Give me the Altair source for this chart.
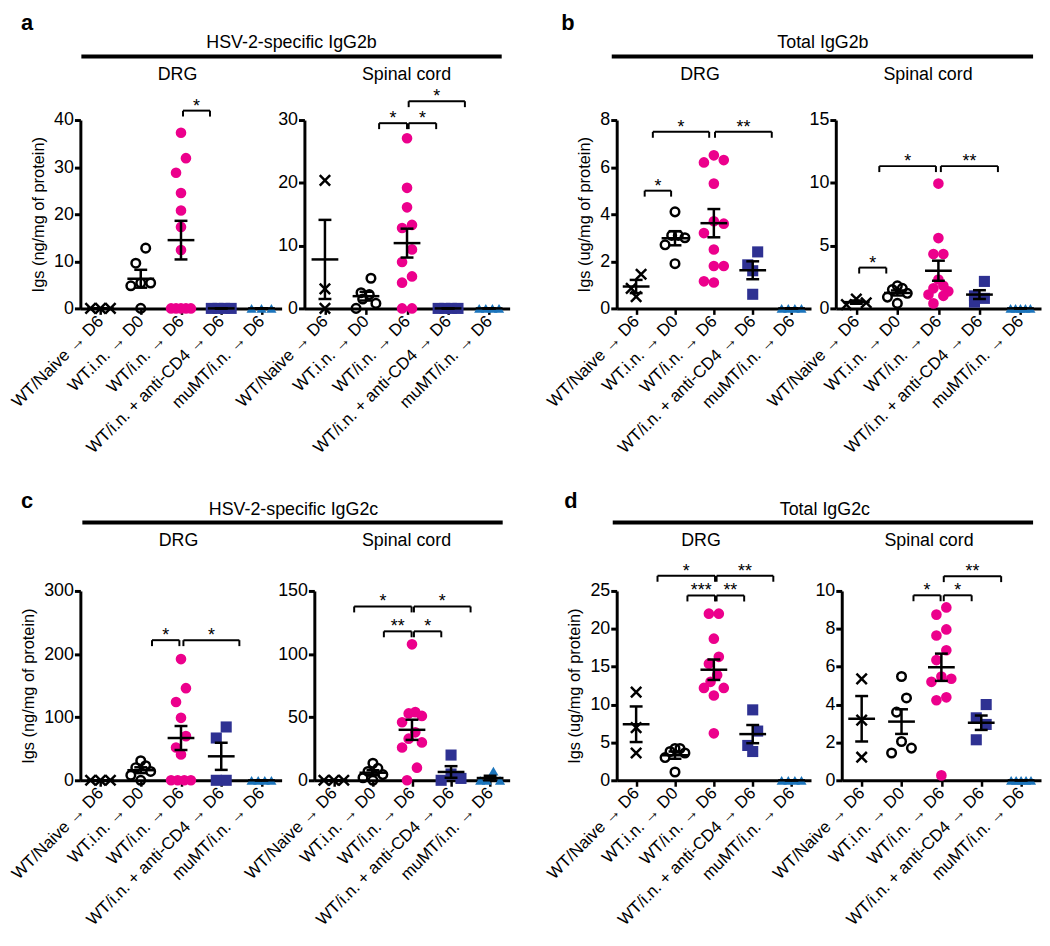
import json
import altair as alt
import pandas as pd

FONT = "Liberation Sans, Arial, DejaVu Sans, sans-serif"
MAG = "#EC008C"
NAVY = "#2E3192"
BLUE = "#1C75BC"
XPATH = "M-1,-1L1,1M-1,1L1,-1"

GROUP_LABELS = ["WT/Naive → D6", "WT.i.n. → D0", "WT/i.n. → D6",
                "WT/i.n. + anti-CD4 → D6", "muMT/i.n. → D6"]

# ---------------- data ----------------
# a: HSV-2-specific IgG2b, DRG
a_drg_values = [[0, 0, 0],
                [12.8, 9.6, 5.4, 5.4, 4.8, 0],
                [37.3, 31.9, 28.8, 24.5, 20.8, 17.3, 12.4, 0, 0, 0, 0, 0],
                [0, 0, 0, 0],
                [0, 0, 0]]
a_drg_mean = [0, 6.3, 14.5, 0, 0]
a_drg_sem = [0, 1.9, 4.1, 0, 0]
a_drg_brackets = [(3.05, 3.72, 42.0, "*")]

# a: HSV-2-specific IgG2b, spinal cord
a_sc_values = [[20.4, 3.1, 0],
               [4.8, 2.5, 2.2, 1.5, 0.8, 0],
               [27.1, 19.2, 16.1, 13.3, 12.8, 9.4, 7.4, 5.1, 4.1, 0, 0],
               [0, 0, 0, 0],
               [0, 0, 0, 0]]
a_sc_mean = [7.8, 1.95, 10.4, 0, 0]
a_sc_sem = [6.3, 0.7, 2.3, 0, 0]
a_sc_brackets = [(2.32, 3.0, 29.5, "*"), (3.04, 3.71, 29.5, "*"),
                 (3.04, 4.41, 33.0, "*")]

# b: total IgG2b, DRG
b_drg_values = [[1.45, 0.85, 0.5],
                [4.1, 3.1, 3.1, 3.0, 2.7, 1.9],
                [6.5, 6.3, 6.2, 5.3, 3.7, 3.6, 3.2, 2.5, 1.8, 1.8, 1.1, 1.15],
                [2.4, 1.85, 1.6, 0.6],
                [0, 0, 0, 0]]
b_drg_mean = [0.93, 2.98, 3.62, 1.62, 0]
b_drg_sem = [0.28, 0.3, 0.6, 0.38, 0]
b_drg_brackets = [(1.22, 1.90, 5.0, "*"), (1.43, 2.88, 7.5, "*"),
                  (3.03, 4.49, 7.5, "**")]

# b: total IgG2b, spinal cord
b_sc_values = [[0.75, 0.45, 0.3],
               [1.8, 1.6, 1.5, 1.2, 0.9, 0.4],
               [9.94, 5.6, 4.33, 4.33, 2.3, 1.8, 1.6, 1.36, 1.1, 1.0, 0.4],
               [2.15, 1.0, 0.8, 0.5],
               [0, 0, 0, 0, 0]]
b_sc_mean = [0.5, 1.23, 3.0, 1.1, 0]
b_sc_sem = [0.13, 0.2, 0.8, 0.35, 0]
b_sc_brackets = [(1.07, 1.73, 3.25, "*"), (1.56, 2.94, 11.33, "*"),
                 (3.06, 4.45, 11.33, "**")]

# c: HSV-2-specific IgG2c, DRG
c_drg_values = [[0, 0, 0],
                [31, 23, 20, 14, 8, 0],
                [192, 146, 124, 99, 70, 52, 41, 0, 0, 0, 0],
                [84.5, 67, 0, 0],
                [0, 0, 0, 0]]
c_drg_mean = [0, 16, 67, 38, 0]
c_drg_sem = [0, 4.6, 19, 21.5, 0]
c_drg_brackets = [(2.28, 2.96, 222, "*"), (3.06, 4.45, 222, "*")]

# c: HSV-2-specific IgG2c, spinal cord
c_sc_values = [[0, 0, 0],
               [13.5, 9.5, 7, 4.5, 2, 0],
               [107.7, 54, 53, 51, 46, 38, 33, 30, 26, 10, 0],
               [20, 5, 1.5, 0],
               [7.3, 0, 0, 0]]
c_sc_mean = [0, 6.0, 40, 6.6, 1.8]
c_sc_sem = [0, 2.0, 8, 4.6, 1.8]
c_sc_brackets = [(1.52, 2.99, 137.7, "*"), (3.05, 4.50, 137.7, "*"),
                 (2.28, 2.99, 118, "**"), (3.05, 3.75, 118, "*")]

# d: total IgG2c, DRG
d_drg_values = [[11.65, 6.96, 3.6],
                [4.2, 4.2, 3.8, 3.6, 3.0, 1.1],
                [22.0, 22.0, 18.7, 16.3, 15.4, 13.9, 13.0, 12.2, 12.2, 11.2, 6.2],
                [9.3, 6.5, 4.6, 3.8],
                [0, 0, 0, 0]]
d_drg_mean = [7.4, 3.32, 14.6, 6.1, 0]
d_drg_sem = [2.35, 0.48, 1.35, 1.2, 0]
d_drg_brackets = [(1.55, 3.03, 27.0, "*"), (3.07, 4.53, 27.0, "**"),
                  (2.32, 3.03, 24.4, "***"), (3.07, 3.78, 24.4, "**")]

# d: total IgG2c, spinal cord
d_sc_values = [[5.36, 3.18, 1.22],
               [5.48, 4.35, 3.6, 2.05, 1.7, 1.44],
               [9.13, 8.75, 7.97, 7.65, 6.87, 6.35, 5.48, 5.36, 5.2, 4.38, 4.23, 0.26],
               [4.0, 3.3, 2.95, 2.14],
               [0, 0, 0, 0, 0]]
d_sc_mean = [3.25, 3.1, 5.97, 3.04, 0]
d_sc_sem = [1.2, 0.65, 0.72, 0.38, 0]
d_sc_brackets = [(2.30, 2.98, 9.77, "*"), (3.06, 3.76, 9.77, "*"),
                 (3.06, 4.50, 10.78, "**")]

TITLE_NG = "Igs (ng/mg of protein)"
TITLE_UG = "Igs (ug/mg of protein)"


# ---------------- helpers ----------------
def swarm(vals, ppu, step):
    """Horizontal spreading of points with similar values (scatter-dot layout):
    points within a band are placed in slots, highest values nearest the centre."""
    order = sorted(range(len(vals)), key=lambda i: -vals[i])
    bins = []
    for i in order:
        if bins and (vals[bins[-1][0]] - vals[i]) * ppu < 16:
            bins[-1].append(i)
        else:
            bins.append([i])
    off = [0.0] * len(vals)
    for b in bins:
        n = len(b)
        if n == 1:
            continue
        spc = min(10.0, 20.0 / (n - 1))
        slots = [k - (n - 1) / 2 for k in range(n)]
        slots.sort(key=lambda s: (abs(s), -s))
        for i, s in zip(b, slots):
            off[i] = s * spc / step
    return off


LABEL_EXPR = "[" + ", ".join(json.dumps(s, ensure_ascii=False) for s in GROUP_LABELS) + "][datum.value - 1]"


def panel(values, mean, sem, brackets, ymax, yticks, ytitle, cell_w, off, w, h):
    step = w / 5.0
    ppu = h / ymax
    rows = []
    for gi, vals in enumerate(values, start=1):
        offs = swarm(vals, ppu, step)
        for v, o in zip(vals, offs):
            rows.append({"gx": gi + o, "v": v, "grp": "g%d" % gi})
    pts = pd.DataFrame(rows)
    stats = pd.DataFrame({"g": [1, 2, 3, 4, 5], "mean": mean,
                          "lo": [m - s for m, s in zip(mean, sem)],
                          "hi": [m + s for m, s in zip(mean, sem)]})
    br = pd.DataFrame(brackets, columns=["x1", "x2", "y", "label"])
    br["xm"] = (br["x1"] + br["x2"]) / 2

    xs = alt.Scale(domain=[0.5, 5.5], range=[off, off + w], nice=False, zero=False)
    ys = alt.Scale(domain=[0, ymax], nice=False, zero=False)
    xax = alt.Axis(values=[1, 2, 3, 4, 5], labelExpr=LABEL_EXPR, labelAngle=-45,
                   labelAlign="right", labelBaseline="middle", labelFontSize=17,
                   labelPadding=4, labelOverlap=False, labelFlush=False,
                   labelLimit=400, tickSize=6, tickWidth=2.5, domainWidth=3,
                   grid=False)
    yax = alt.Axis(values=yticks, tickSize=6, tickWidth=3, domainWidth=3,
                   labelFontSize=18, labelPadding=1, titleFontSize=16.5,
                   titlePadding=7, titleFontWeight="normal", grid=False,
                   offset=-off)

    def X(f):
        return alt.X(f + ":Q", scale=xs, axis=xax, title=None)

    def Y(f):
        return alt.Y(f + ":Q", scale=ys, axis=yax, title=ytitle)

    P = alt.Chart(pts)
    l_x = P.transform_filter("datum.grp == 'g1'").mark_point(
        shape=XPATH, filled=False, color="black", strokeWidth=2.5, size=110,
        opacity=1).encode(x=X("gx"), y=Y("v"))
    l_o = P.transform_filter("datum.grp == 'g2'").mark_point(
        shape="circle", filled=False, color="black", strokeWidth=2.5, size=75,
        opacity=1).encode(x=X("gx"), y=Y("v"))
    l_m = P.transform_filter("datum.grp == 'g3'").mark_point(
        shape="circle", filled=True, color=MAG, size=115, opacity=1,
        strokeWidth=0).encode(x=X("gx"), y=Y("v"))
    l_s = P.transform_filter("datum.grp == 'g4'").mark_point(
        shape="square", filled=True, color=NAVY, size=125, opacity=1,
        strokeWidth=0).encode(x=X("gx"), y=Y("v"))
    l_t = P.transform_filter("datum.grp == 'g5'").mark_point(
        shape="triangle-up", filled=True, color=BLUE, size=105, opacity=1,
        strokeWidth=0).encode(x=X("gx"), y=Y("v"))

    S = alt.Chart(stats)
    e_bar = S.mark_rule(color="black", strokeWidth=2.5).encode(
        x=X("g"), y=Y("lo"), y2="hi")
    e_cap = S.transform_fold(["lo", "hi"], as_=["k", "yv"]).mark_tick(
        orient="horizontal", size=13, thickness=2.5, color="black",
        opacity=1).encode(x=X("g"), y=Y("yv"))
    e_mean = S.mark_tick(orient="horizontal", size=27, thickness=2.5,
                         color="black", opacity=1).encode(x=X("g"), y=Y("mean"))

    B = alt.Chart(br)
    b_line = B.mark_rule(color="black", strokeWidth=2).encode(
        x=X("x1"), x2="x2", y=Y("y"))
    b_end = B.transform_fold(["x1", "x2"], as_=["k", "xe"]).mark_tick(
        orient="vertical", size=6, thickness=2, yOffset=3, color="black",
        opacity=1).encode(x=X("xe"), y=Y("y"))
    b_txt = B.mark_text(font=FONT, fontSize=18, baseline="alphabetic", dy=1,
                        color="black").encode(x=X("xm"), y=Y("y"), text="label:N")

    return alt.layer(l_x, l_o, l_m, l_s, l_t, e_bar, e_cap, e_mean,
                     b_line, b_end, b_txt).properties(width=cell_w, height=h)


ONE = pd.DataFrame({"k": [0]})


def txt(s, x, y, size=18, weight="normal", align="center"):
    return alt.Chart(ONE).mark_text(
        text=s, font=FONT, fontSize=size, fontWeight=weight, align=align,
        baseline="alphabetic", color="black").encode(x=alt.value(x), y=alt.value(y))


def hline(x1, x2, y):
    return alt.Chart(ONE).mark_rule(color="black", strokeWidth=4).encode(
        x=alt.value(x1), x2=alt.value(x2), y=alt.value(y))


W1, W2, W3, W4 = 226, 315, 221, 208
HA, HB, HC, HD = 109, 190, 285, 191

# header row 1
hA1 = alt.layer(txt("a", -60, 18, 22, "bold", "left"),
                txt("HSV-2-specific IgG2b", 213, 36),
                hline(1, 425, 45),
                txt("DRG", 98, 69)).properties(width=W1, height=HA)
hA2 = alt.layer(txt("Spinal cord", 103, 69)).properties(width=W2, height=HA)
hA3 = alt.layer(txt("b", -56, 18, 22, "bold", "left"),
                txt("Total IgG2b", 208, 36),
                hline(-5, 420, 45),
                txt("DRG", 84, 69)).properties(width=W3, height=HA)
hA4 = alt.layer(txt("Spinal cord", 93, 69)).properties(width=W4, height=HA)

# header row 2
hC1 = alt.layer(txt("c", -60, 201, 22, "bold", "left"),
                txt("HSV-2-specific IgG2c", 215, 208),
                hline(2, 426, 216),
                txt("DRG", 99, 240)).properties(width=W1, height=HC)
hC2 = alt.layer(txt("Spinal cord", 103, 240)).properties(width=W2, height=HC)
hC3 = alt.layer(txt("d", -53, 201, 22, "bold", "left"),
                txt("Total IgG2c", 210, 208),
                hline(-4, 420, 216),
                txt("DRG", 85, 240)).properties(width=W3, height=HC)
hC4 = alt.layer(txt("Spinal cord", 94, 240)).properties(width=W4, height=HC)

pa1 = panel(a_drg_values, a_drg_mean, a_drg_sem, a_drg_brackets, 40,
            [0, 10, 20, 30, 40], TITLE_NG, W1, 0, 203, HB)
pa2 = panel(a_sc_values, a_sc_mean, a_sc_sem, a_sc_brackets, 30,
            [0, 10, 20, 30], None, W2, 0, 207, HB)
pb1 = panel(b_drg_values, b_drg_mean, b_drg_sem, b_drg_brackets, 8,
            [0, 2, 4, 6, 8], TITLE_UG, W3, 0, 196, HB)
pb2 = panel(b_sc_values, b_sc_mean, b_sc_sem, b_sc_brackets, 15,
            [0, 5, 10, 15], None, W4, 0, 207, HB)
pc1 = panel(c_drg_values, c_drg_mean, c_drg_sem, c_drg_brackets, 300,
            [0, 100, 200, 300], TITLE_NG, W1, 0, 203, HD)
pc2 = panel(c_sc_values, c_sc_mean, c_sc_sem, c_sc_brackets, 150,
            [0, 50, 100, 150], None, W2, 10, 197, HD)
pd1 = panel(d_drg_values, d_drg_mean, d_drg_sem, d_drg_brackets, 25,
            [0, 5, 10, 15, 20, 25], TITLE_UG, W3, 0, 196, HD)
pd2 = panel(d_sc_values, d_sc_mean, d_sc_sem, d_sc_brackets, 10,
            [0, 2, 4, 6, 8, 10], None, W4, 6, 201, HD)

chart = alt.concat(hA1, hA2, hA3, hA4,
                   pa1, pa2, pb1, pb2,
                   hC1, hC2, hC3, hC4,
                   pc1, pc2, pd1, pd2,
                   columns=4, spacing=0, bounds="flush").properties(
    padding={"left": 0, "top": 0, "right": 0, "bottom": 0}
).configure_view(strokeWidth=0).configure_axis(
    labelFont=FONT, titleFont=FONT, labelColor="black", titleColor="black",
    domainColor="black", tickColor="black", grid=False)

chart.save("out.html", embed_options={"renderer": "svg", "actions": False})
